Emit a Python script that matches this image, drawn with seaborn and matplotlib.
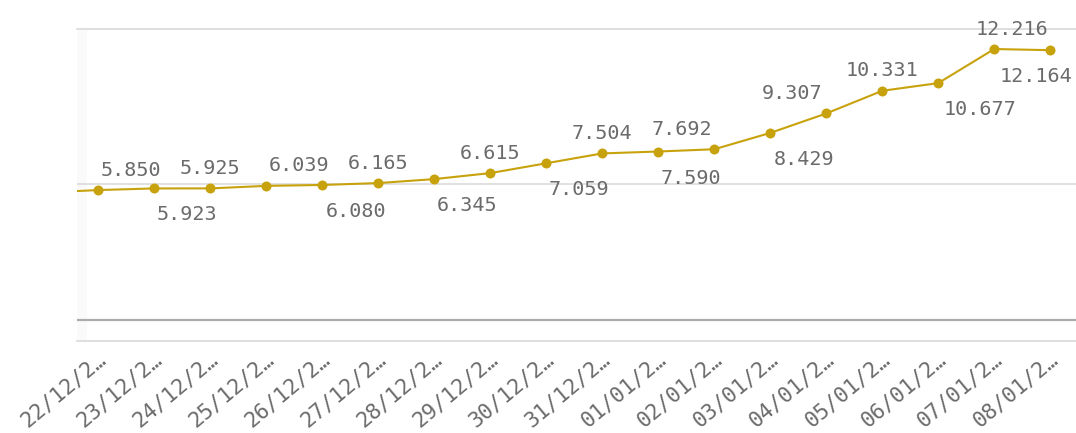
import matplotlib
matplotlib.use("Agg")
import matplotlib.pyplot as plt
import matplotlib.transforms as mtransforms
import pandas as pd
import seaborn as sns

# daily values shown on the chart
days = ["22/12/2…", "23/12/2…", "24/12/2…", "25/12/2…", "26/12/2…", "27/12/2…",
        "28/12/2…", "29/12/2…", "30/12/2…", "31/12/2…", "01/01/2…", "02/01/2…",
        "03/01/2…", "04/01/2…", "05/01/2…", "06/01/2…", "07/01/2…", "08/01/2…"]
values = [5.850, 5.923, 5.925, 6.039, 6.080, 6.165, 6.345, 6.615, 7.059,
          7.504, 7.590, 7.692, 8.429, 9.307, 10.331, 10.677, 12.216, 12.164]
# the day before the first one is scrolled off to the left, only its line shows
prev_value = 5.73

# label placement (which side, and sideways nudge in category units)
label_side = ["above", "below", "above", "above", "below", "above", "below", "above", "below",
              "above", "below", "above", "below", "above", "above", "below", "above", "below"]
label_nudge = [0.58, 0.585, 0.0, 0.585, 0.6, 0.0, 0.58, 0.0, 0.58,
               0.0, 0.59, -0.58, 0.6, -0.61, 0.0, 0.74, 0.31, -0.25]

GOLD = "#c8a20c"
TXT = "#6b6b6b"
W, H = 1076, 433

sns.set_style("white")
plt.rcParams["font.family"] = ["DejaVu Sans Mono", "DejaVu Sans"]

df = pd.DataFrame({"pos": range(-1, len(values)), "value": [prev_value] + values})

fig = plt.figure(figsize=(W / 100, H / 100), dpi=100)
ax = fig.add_axes([77 / W, 1 - 340.7 / H, 1 - 77 / W, (340.7 - 29) / H])

ax.set_xlim(-0.38, 17.46)
ax.set_ylim(-0.95, 13.12)

# faint shading at the left edge of the plot
ax.axvspan(-0.38, -0.2, color="#fafafa", lw=0, zorder=0)

# reference lines
ax.axhline(6.12, color="#d8d8d8", lw=1.1, zorder=1)
ax.axhline(0, color="#ababab", lw=1.6, zorder=1)

sns.lineplot(data=df, x="pos", y="value", ax=ax, color=GOLD, lw=1.5,
             marker="o", markersize=7.2, markeredgewidth=0, zorder=3)

for i, v in enumerate(values):
    up = label_side[i] == "above"
    ax.annotate(f"{v:.3f}", xy=(i + label_nudge[i], v),
                xytext=(0, 14.5 if up else -32), textcoords="offset pixels",
                ha="center", va="baseline", fontsize=14.5, color=TXT, zorder=4)

for side in ["left", "right"]:
    ax.spines[side].set_visible(False)
ax.spines["top"].set_color("#d6d6d6")
ax.spines["top"].set_linewidth(1.1)
ax.spines["bottom"].set_color("#d9d9d9")
ax.spines["bottom"].set_linewidth(1.2)

ax.set_yticks([])
ax.set_xticks(range(len(days)))
ax.set_xticklabels(days, rotation=40, ha="right", va="center",
                   rotation_mode="anchor", fontsize=15.5, color=TXT)
ax.tick_params(axis="x", length=0, pad=11)
shift = mtransforms.ScaledTranslation(5 / 100, 0, fig.dpi_scale_trans)
for lbl in ax.get_xticklabels():
    lbl.set_transform(lbl.get_transform() + shift)

ax.set_xlabel("")
ax.set_ylabel("")

fig.savefig("out.png", dpi=100)
